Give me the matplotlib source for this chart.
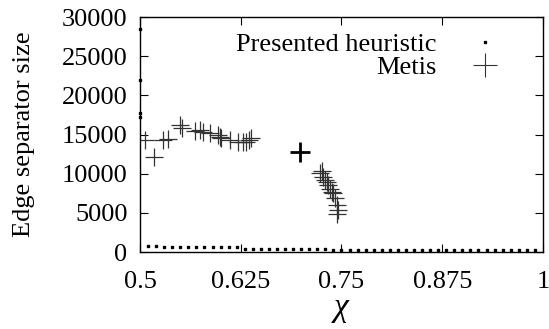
import matplotlib
matplotlib.use("Agg")
import matplotlib.pyplot as plt
import numpy as np

plt.rcParams['font.family'] = ['Liberation Serif', 'DejaVu Serif']
plt.rcParams['mathtext.fontset'] = 'custom'
plt.rcParams['mathtext.it'] = 'Liberation Serif:italic'

# Presented heuristic (dots)
heur_chi = [0.5, 0.5, 0.5, 0.5,
            0.51, 0.52, 0.53, 0.54, 0.55, 0.56, 0.57, 0.58, 0.59, 0.60, 0.61, 0.62,
            0.63, 0.64, 0.65, 0.66, 0.67, 0.68, 0.69, 0.70, 0.71, 0.72, 0.73, 0.74,
            0.75, 0.76, 0.77, 0.78, 0.79, 0.80, 0.81, 0.82, 0.83, 0.84, 0.85, 0.86,
            0.87, 0.88, 0.89, 0.90, 0.91, 0.92, 0.93, 0.94, 0.95, 0.96, 0.97, 0.98, 0.99]
heur_val = [28500, 22000, 17800, 17300,
            750, 720, 700, 680, 660, 650, 640, 620, 610, 600, 590, 580,
            400, 390, 380, 370, 360, 350, 350, 340, 340, 330, 330, 320,
            320, 310, 310, 300, 300, 300, 290, 290, 290, 280, 280, 280,
            270, 270, 270, 260, 260, 260, 250, 250, 250, 250, 240, 240, 240]

# Metis (plus markers)
metis_chi = [0.506, 0.517, 0.529, 0.535, 0.550, 0.552, 0.568, 0.574, 0.578,
             0.587, 0.597, 0.599, 0.601, 0.612, 0.622, 0.628, 0.632, 0.635, 0.638,
             0.7233, 0.7254, 0.7275, 0.7295, 0.7316, 0.7337, 0.7357, 0.7378,
             0.740, 0.742, 0.744, 0.746, 0.7445]
metis_val = [14300, 12100, 14300, 14400, 16200, 15900, 15400, 15600, 15300,
             15200, 14900, 14700, 14600, 14300, 14100, 14000, 14100, 14300, 14500,
             10100, 10300, 9600, 9200, 8900, 8500, 8100, 7700,
             7500, 6900, 6000, 5400, 4900]
# Metis point drawn bold
metis_bold_chi = [0.6985]
metis_bold_val = [12800]

x_ticks = [0.5, 0.625, 0.75, 0.875, 1]
x_tick_labels = ['0.5', '0.625', '0.75', '0.875', '1']
y_ticks = [0, 5000, 10000, 15000, 20000, 25000, 30000]

fig = plt.figure(figsize=(5.49, 3.29), dpi=100)
ax = fig.add_axes([0.255, 0.234, 0.734, 0.714])

ax.plot(heur_chi, heur_val, linestyle='none', marker='s', markersize=1.8,
        color='black', label='Presented heuristic', clip_on=False)
ax.plot(metis_chi, metis_val, linestyle='none', marker='+', markersize=13,
        markeredgewidth=0.9, color='#333333', label='Metis')
ax.plot(metis_bold_chi, metis_bold_val, linestyle='none', marker='+', markersize=14,
        markeredgewidth=2.0, color='black')

ax.set_xlim(0.5, 1)
ax.set_ylim(0, 30000)
ax.set_xticks(x_ticks)
ax.set_xticklabels(x_tick_labels)
ax.set_yticks(y_ticks)
ax.tick_params(direction='in', length=6, width=0.8, top=True, right=True,
               labelsize=19)
ax.tick_params(axis='x', pad=14)
ax.tick_params(axis='y', pad=9)
for s in ax.spines.values():
    s.set_linewidth(1.0)

ax.set_ylabel('Edge separator size', fontsize=19, labelpad=19)
ax.set_xlabel(r'$\chi$', fontsize=24, labelpad=1)

leg = ax.legend(loc='upper right', frameon=False, fontsize=19,
                markerfirst=False, handlelength=1.3, handletextpad=1.17,
                borderaxespad=0.0, labelspacing=0.0,
                bbox_to_anchor=(0.924, 0.98))
for t in leg.get_texts():
    t.set_ha('right')
handles = leg.legend_handles
handles[0].set_markersize(1.8)
handles[1].set_markersize(17)
handles[1].set_markeredgewidth(0.8)

fig.savefig('out.png', dpi=100)
